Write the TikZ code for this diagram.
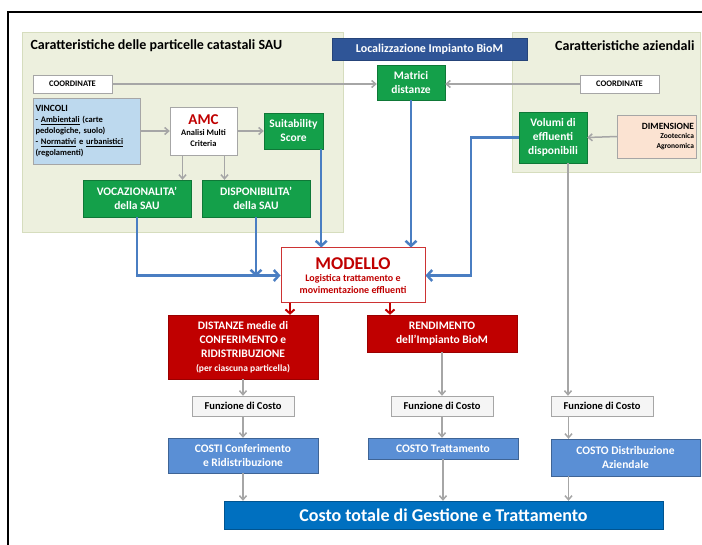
\documentclass[tikz,border=0pt]{standalone}
\usepackage{fontspec}
\setmainfont{Carlito}
\usepackage{tikz}
\usetikzlibrary{arrows.meta, calc}

\definecolor{panelbg}{HTML}{EDF0DE}
\definecolor{panelline}{HTML}{D6DDBE}
\definecolor{boxgreen}{HTML}{14A04A}
\definecolor{boxred}{HTML}{C00000}
\definecolor{boxblue}{HTML}{5A8FD5}
\definecolor{locblue}{HTML}{2F5597}
\definecolor{totblue}{HTML}{0070C0}
\definecolor{linkblue}{HTML}{4A7EC2}
\definecolor{linkgray}{HTML}{A6A6A6}
\definecolor{vinbg}{HTML}{BDD9EE}
\definecolor{dimbg}{HTML}{FBE3D2}

\newcommand{\fsz}[2]{\fontsize{#1}{#2}\selectfont\bfseries}

\begin{document}
\begin{tikzpicture}[x=1pt, y=-1pt,
    box/.style={draw, rectangle, align=center, inner sep=1pt},
    greenbox/.style={box, fill=boxgreen, draw=boxgreen!75!black, text=white, font=\fsz{11.5}{14}},
    redbox/.style={box, fill=boxred, draw=boxred!80!black, text=white, font=\fsz{11.5}{14}},
    costbox/.style={box, fill=boxblue, draw=boxblue!70!black, text=white, font=\fsz{11.5}{14}},
    funzbox/.style={box, fill=gray!8, draw=linkgray, minimum width=102pt, minimum height=20pt, font=\fsz{10.5}{12}},
    whitebox/.style={box, fill=white, draw=linkgray, font=\fsz{8.5}{10}},
    graylink/.style={draw=linkgray, line width=1.5pt, -{Straight Barb[length=4pt, width=7pt]}},
    bluelink/.style={draw=linkblue, line width=2.5pt, -{Straight Barb[length=5pt, width=11pt]}},
    redlink/.style={draw=boxred, line width=2pt, -{Straight Barb[length=4pt, width=9pt]}}]

    \useasboundingbox (0,0) rectangle (702,545);

    % frame and panels
    \draw[line width=2pt] (8,545) -- (8,12) -- (703,12);
    \draw[panelline, fill=panelbg] (22,32) rectangle (343,232);
    \draw[panelline, fill=panelbg] (512,32) rectangle (700,172);

    \node[anchor=west, font=\fsz{14}{16}] (titleL) at (27,46) {Caratteristiche delle particelle catastali SAU};
    \node[anchor=east, font=\fsz{14}{16}] (titleR) at (698,46) {Caratteristiche aziendali};
    \node[box, fill=locblue, draw=locblue!80!black, text=white, minimum width=195pt, minimum height=22pt, font=\fsz{12}{14}] (locBox) at (429.5,49) {Localizzazione Impianto BioM};

    % upper boxes
    \node[whitebox, minimum width=79pt, minimum height=18pt] (coordL) at (72.5,84) {COORDINATE};
    \node[whitebox, minimum width=79pt, minimum height=18pt] (coordR) at (619.5,84) {COORDINATE};
    \node[greenbox, minimum width=68pt, minimum height=35pt] (matrici) at (411,82.5) {Matrici\\distanze};
    \node[box, fill=vinbg, draw=linkgray, minimum height=66pt, text width=102pt, align=left, inner sep=2.5pt, font=\fsz{8.5}{11}] (vincoli) at (86.5,131)
        {{\fsz{9.5}{11}VINCOLI}\\- \underline{Ambientali} (carte\\pedologiche, suolo)\\- \underline{Normativi} e \underline{urbanistici}\\(regolamenti)};
    \node[box, fill=white, draw=linkgray, minimum width=67pt, minimum height=48pt, font=\fsz{8.5}{11}] (amc) at (203.5,131)
        {{\color{boxred}\fsz{15}{16}AMC}\\Analisi Multi\\Criteria};
    \node[greenbox, minimum width=59pt, minimum height=36pt] (suit) at (293.5,131) {Suitability\\Score};
    \node[greenbox, minimum width=108pt, minimum height=37pt] (vocaz) at (137,198.5) {VOCAZIONALITA'\\della SAU};
    \node[greenbox, minimum width=108pt, minimum height=37pt] (dispon) at (256,198.5) {DISPONIBILITA'\\della SAU};
    \node[greenbox, minimum width=68pt, minimum height=51pt] (volumi) at (553,137.5) {Volumi di\\effluenti\\disponibili};
    \node[box, fill=dimbg, draw=linkgray, minimum height=43pt, text width=74pt, align=right, inner sep=2.5pt, font=\fsz{7.5}{9.5}] (dimens) at (657,136.5)
        {{\fsz{9.5}{11}DIMENSIONE}\\Zootecnica\\Agronomica};

    % model and results
    \node[box, fill=white, draw=boxred!80, line width=1pt, minimum width=144pt, minimum height=55pt, text=boxred, font=\fsz{10}{12}] (modello) at (353,275.5)
        {{\fsz{18}{19}MODELLO}\\Logistica trattamento e\\movimentazione effluenti};
    \node[redbox, minimum width=150pt, minimum height=64pt] (distanze) at (243,347)
        {DISTANZE medie di\\CONFERIMENTO e\\RIDISTRIBUZIONE\\{\fsz{9.5}{12}(per ciascuna particella)}};
    \node[redbox, minimum width=150pt, minimum height=37pt] (rendim) at (442,333.5) {RENDIMENTO\\dell'Impianto BioM};

    \node[funzbox] (funz1) at (243,406) {Funzione di Costo};
    \node[funzbox] (funz2) at (442,406) {Funzione di Costo};
    \node[funzbox] (funz3) at (602,406) {Funzione di Costo};

    \node[costbox, minimum width=150pt, minimum height=35pt] (costi1) at (243,455.5) {COSTI Conferimento\\e Ridistribuzione};
    \node[costbox, minimum width=150pt, minimum height=21pt] (costi2) at (443,448.5) {COSTO Trattamento};
    \node[costbox, minimum width=149pt, minimum height=37pt] (costi3) at (625.5,457.5) {COSTO Distribuzione\\Aziendale};

    \node[box, fill=totblue, draw=totblue!75!black, text=white, minimum width=439pt, minimum height=28pt, font=\fsz{18}{20}] (totale) at (443.5,515)
        {Costo totale di Gestione e Trattamento};

    % gray links
    \draw[graylink] (coordL.east) -- (coordL.east -| matrici.west);
    \draw[graylink] (coordR.west) -- (coordR.west -| matrici.east);
    \draw[graylink] (vincoli.east) -- (amc.west);
    \draw[graylink] (amc.east) -- (suit.west);
    \draw[graylink] ([xshift=-21pt]amc.south) -- ([xshift=-21pt]amc.south |- vocaz.north);
    \draw[graylink] ([xshift=21pt]amc.south) -- ([xshift=21pt]amc.south |- dispon.north);
    \draw[graylink] (dimens.west) -- (volumi.east);
    \draw[graylink] ([xshift=15pt]volumi.south) -- ([xshift=15pt]volumi.south |- funz3.north);
    \draw[graylink] (funz3.south -| costi3.north) ++(-57pt,0) coordinate (f3s) -- (f3s |- costi3.north);
    \draw[graylink] (costi3.south) ++(-57pt,0) coordinate (c3s) -- (c3s |- totale.north);
    \draw[graylink] (distanze.south) -- (funz1.north);
    \draw[graylink] (funz1.south) -- (costi1.north);
    \draw[graylink] (costi1.south) -- (costi1.south |- totale.north);
    \draw[graylink] (rendim.south) -- (funz2.north);
    \draw[graylink] (funz2.south) -- (funz2.south |- costi2.north);
    \draw[graylink] (costi2.south) -- (costi2.south |- totale.north);

    % blue links
    \draw[bluelink] ([xshift=-2pt]suit.south east) -- ([xshift=-2pt]suit.south east |- modello.north);
    \draw[bluelink] (matrici.south) -- (matrici.south |- modello.north);
    \draw[bluelink] (vocaz.south) |- (modello.west);
    \draw[bluelink] (dispon.south) -- ([yshift=-1pt]dispon.south |- modello.west);
    \draw[bluelink] (volumi.west) -- ++(-48pt,0) |- (modello.east);

    % red links
    \draw[redlink] ([xshift=-63pt]modello.south) -- ([xshift=-63pt]modello.south |- distanze.north);
    \draw[redlink] ([xshift=37pt]modello.south) -- ([xshift=37pt]modello.south |- rendim.north);
\end{tikzpicture}
\end{document}
